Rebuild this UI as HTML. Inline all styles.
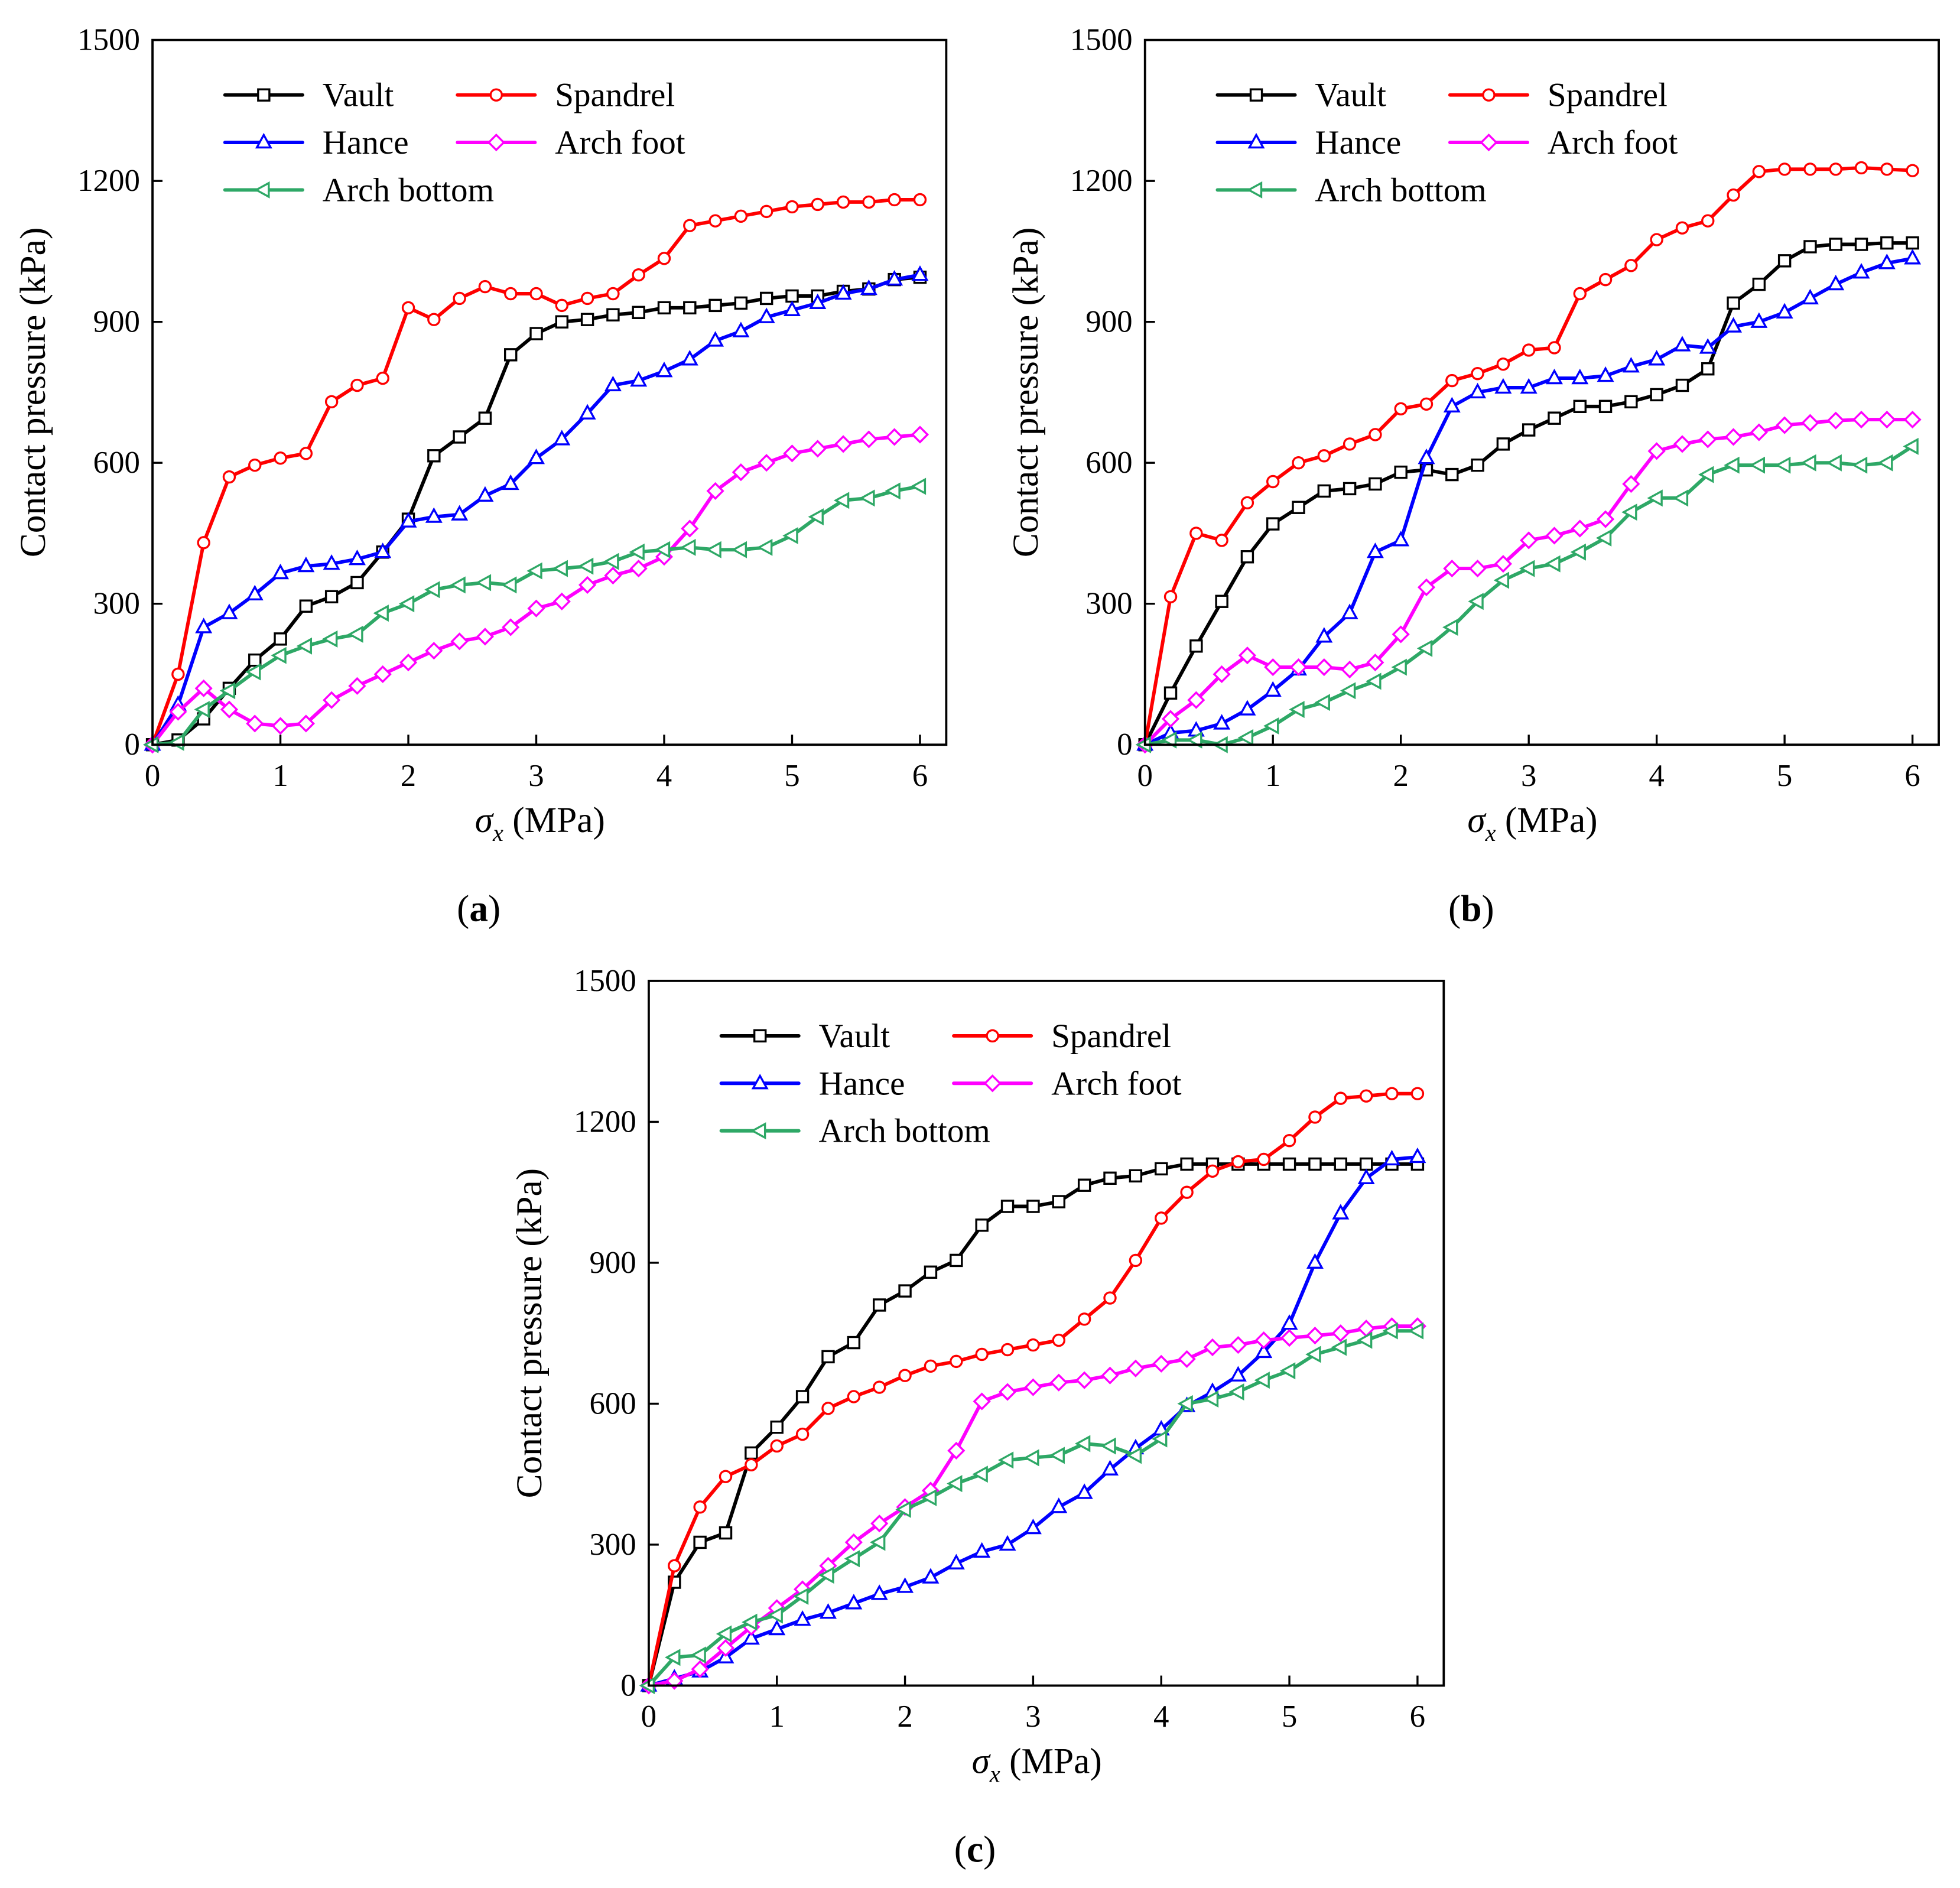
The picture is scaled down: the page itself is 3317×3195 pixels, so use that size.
<!DOCTYPE html>
<html><head><meta charset="utf-8"><style>
html,body{margin:0;padding:0;background:#fff}
svg{display:block}
svg text{font-family:"Liberation Serif","Times New Roman","DejaVu Serif",serif}
</style></head><body>
<svg id="fig" width="3317" height="3195" viewBox="0 0 1568 1511" preserveAspectRatio="none" xmlns="http://www.w3.org/2000/svg"></svg>
<script>
const xVals=[0,0.2,0.4,0.6,0.8,1,1.2,1.4,1.6,1.8,2,2.2,2.4,2.6,2.8,3,3.2,3.4,3.6,3.8,4,4.2,4.4,4.6,4.8,5,5.2,5.4,5.6,5.8,6];
const xTicks=[0,1,2,3,4,5,6];
const yTicks=[0,300,600,900,1200,1500];
const seriesNames=["Vault","Spandrel","Hance","Arch foot","Arch bottom"];
const aVault=[0,10,55,120,180,225,295,315,345,410,480,615,655,695,830,875,900,905,915,920,930,930,935,940,950,955,955,965,970,990,995];
const aSpandrel=[0,150,430,570,595,610,620,730,765,780,930,905,950,975,960,960,935,950,960,1000,1035,1105,1115,1125,1135,1145,1150,1155,1155,1160,1160];
const aHance=[0,85,250,280,320,365,380,385,395,410,475,485,490,530,555,610,650,705,765,775,795,820,860,880,910,925,940,960,970,990,1000];
const aFoot=[0,70,120,75,45,40,45,95,125,150,175,200,220,230,250,290,305,340,360,375,400,460,540,580,600,620,630,640,650,655,660];
const aBottom=[0,5,75,115,155,190,210,225,235,280,300,330,340,345,340,370,375,380,390,410,415,420,415,415,420,445,485,520,525,540,550];
const bVault=[0,110,210,305,400,470,505,540,545,555,580,585,575,595,640,670,695,720,720,730,745,765,800,940,980,1030,1060,1065,1065,1068,1068];
const bSpandrel=[0,315,450,435,515,560,600,615,640,660,715,725,775,790,810,840,845,960,990,1020,1075,1100,1115,1170,1220,1225,1225,1225,1228,1225,1222];
const bHance=[0,25,30,45,75,115,160,230,280,410,435,610,720,750,760,760,780,780,785,805,820,850,845,890,900,920,950,980,1005,1025,1035];
const bFoot=[0,55,95,150,190,165,165,165,160,175,235,335,375,375,385,435,445,460,480,555,625,640,650,655,665,680,685,690,692,692,692];
const bBottom=[0,10,10,0,15,40,75,90,115,135,165,205,250,305,350,375,385,410,440,495,525,525,575,595,595,595,600,600,595,600,635];
const cVault=[0,220,305,325,495,550,615,700,730,810,840,880,905,980,1020,1020,1030,1065,1080,1085,1100,1110,1110,1110,1110,1110,1110,1110,1110,1110,1110];
const cSpandrel=[0,255,380,445,470,510,535,590,615,635,660,680,690,705,715,725,735,780,825,905,995,1050,1095,1115,1120,1160,1210,1250,1255,1260,1260];
const cHance=[0,15,30,60,100,120,140,155,175,195,210,230,260,285,300,335,380,410,460,505,545,595,625,660,710,770,900,1005,1080,1120,1125];
const cFoot=[0,10,35,80,125,165,205,255,305,345,380,415,500,605,625,635,645,650,660,675,685,695,720,725,735,740,745,750,760,765,765];
const cBottom=[0,60,65,110,135,150,190,235,270,305,375,400,430,450,480,485,490,515,510,490,525,600,610,625,650,670,705,720,735,755,755];

const NS="http://www.w3.org/2000/svg";
const svg=document.getElementById('fig');
function mk(tag,attrs,parent){const e=document.createElementNS(NS,tag);for(const k in attrs)e.setAttribute(k,attrs[k]);if(tag==='text')e.setAttribute('style','font-family:"Liberation Serif","Times New Roman","DejaVu Serif",serif');(parent||svg).appendChild(e);return e;}
const colors=["#000000","#ff0000","#0000ff","#ff00ff","#2ea866"];
const markers=["square","circle","triUp","diamond","triLeft"];
function marker(g,type,x,y,c){
  let e;
  if(type==="square")e=mk('rect',{x:x-4.5,y:y-4.5,width:9,height:9,fill:'#fff',stroke:c,'stroke-width':1.6},g);
  else if(type==="circle")e=mk('circle',{cx:x,cy:y,r:4.5,fill:'#fff',stroke:c,'stroke-width':1.6},g);
  else if(type==="triUp")e=mk('polygon',{points:`${x},${y-6} ${x-5.5},${y+4} ${x+5.5},${y+4}`,fill:'#fff',stroke:c,'stroke-width':1.6},g);
  else if(type==="diamond")e=mk('polygon',{points:`${x},${y-6} ${x+6},${y} ${x},${y+6} ${x-6},${y}`,fill:'#fff',stroke:c,'stroke-width':1.6},g);
  else e=mk('polygon',{points:`${x-6},${y} ${x+4},${y-5.5} ${x+4},${y+5.5}`,fill:'#fff',stroke:c,'stroke-width':1.6},g);
  
  
}
function panel(id,L,T,R,B,x6,data,label,lx,ly){
  const g=mk('g',{});
  
  
  const xs=v=>L+v*(x6-L)/6;
  const ys=v=>B-v*(B-T)/1500;
  xTicks.forEach(t=>{
    const l=mk('line',{x1:xs(t),x2:xs(t),y1:B,y2:B-8,stroke:'#000','stroke-width':1.6},g);
    
    const tx=mk('text',{x:xs(t),y:B+33,'font-size':25,'text-anchor':'middle'},g);tx.textContent=t;
    
  });
  yTicks.forEach(t=>{
    const l=mk('line',{x1:L,x2:L+8,y1:ys(t),y2:ys(t),stroke:'#000','stroke-width':1.6},g);
    
    const tx=mk('text',{x:L-10,y:ys(t)+8,'font-size':25,'text-anchor':'end'},g);tx.textContent=t;
    
  });
  data.forEach((arr,si)=>{
    const pts=arr.map((v,i)=>xs(xVals[i])+','+ys(v)).join(' ');
    const pl=mk('polyline',{points:pts,fill:'none',stroke:colors[si],'stroke-width':2.8,'stroke-linejoin':'round'},g);
    
    
    arr.forEach((v,i)=>marker(g,markers[si],xs(xVals[i]),ys(v),colors[si]));
  });
  const box=mk('rect',{x:L,y:T,width:R-L,height:B-T,fill:'none',stroke:'#000','stroke-width':1.8},g);
  
  const yt=mk('text',{x:0,y:0,'font-size':29,'text-anchor':'middle',transform:`translate(${L-86},${(T+B)/2}) rotate(-90)`},g);
  yt.textContent='Contact pressure (kPa)';
  
  const xt=mk('text',{x:(L+x6)/2+3,y:B+70,'font-size':29,'text-anchor':'middle'},g);
  xt.innerHTML='<tspan font-style="italic">σ</tspan><tspan font-style="italic" font-size="19" dy="7">x</tspan><tspan dy="-7"> (MPa)</tspan>';
  
  const lg=mk('g',{},g);
  
  const pos=[[0,0],[190,0],[0,38],[190,38],[0,76]];
  const lx0=L+58, ly0=T+44;
  seriesNames.forEach((n,si)=>{
    const x=lx0+pos[si][0]+(si%2?-4:0), y=ly0+pos[si][1];
    const e=mk('g',{},lg);
    
    mk('line',{x1:x,x2:x+62,y1:y,y2:y,stroke:colors[si],'stroke-width':2.8,'stroke-linecap':'round'},e);
    marker(e,markers[si],x+31,y,colors[si]);
    const t=mk('text',{x:x+78,y:y+9,'font-size':27},e);t.textContent=n;
  });
  const pl=mk('text',{x:lx,y:ly,'font-size':30,'text-anchor':'middle'},g);
  pl.innerHTML='(<tspan font-weight="bold">'+label+'</tspan>)';
  
}
panel('a',122,32,757,596,736,[aVault,aSpandrel,aHance,aFoot,aBottom],'a',383,737);
panel('b',916,32,1551,596,1530,[bVault,bSpandrel,bHance,bFoot,bBottom],'b',1177,737);
panel('c',519,785,1155,1349,1134,[cVault,cSpandrel,cHance,cFoot,cBottom],'c',780,1490);
</script>
</body></html>
